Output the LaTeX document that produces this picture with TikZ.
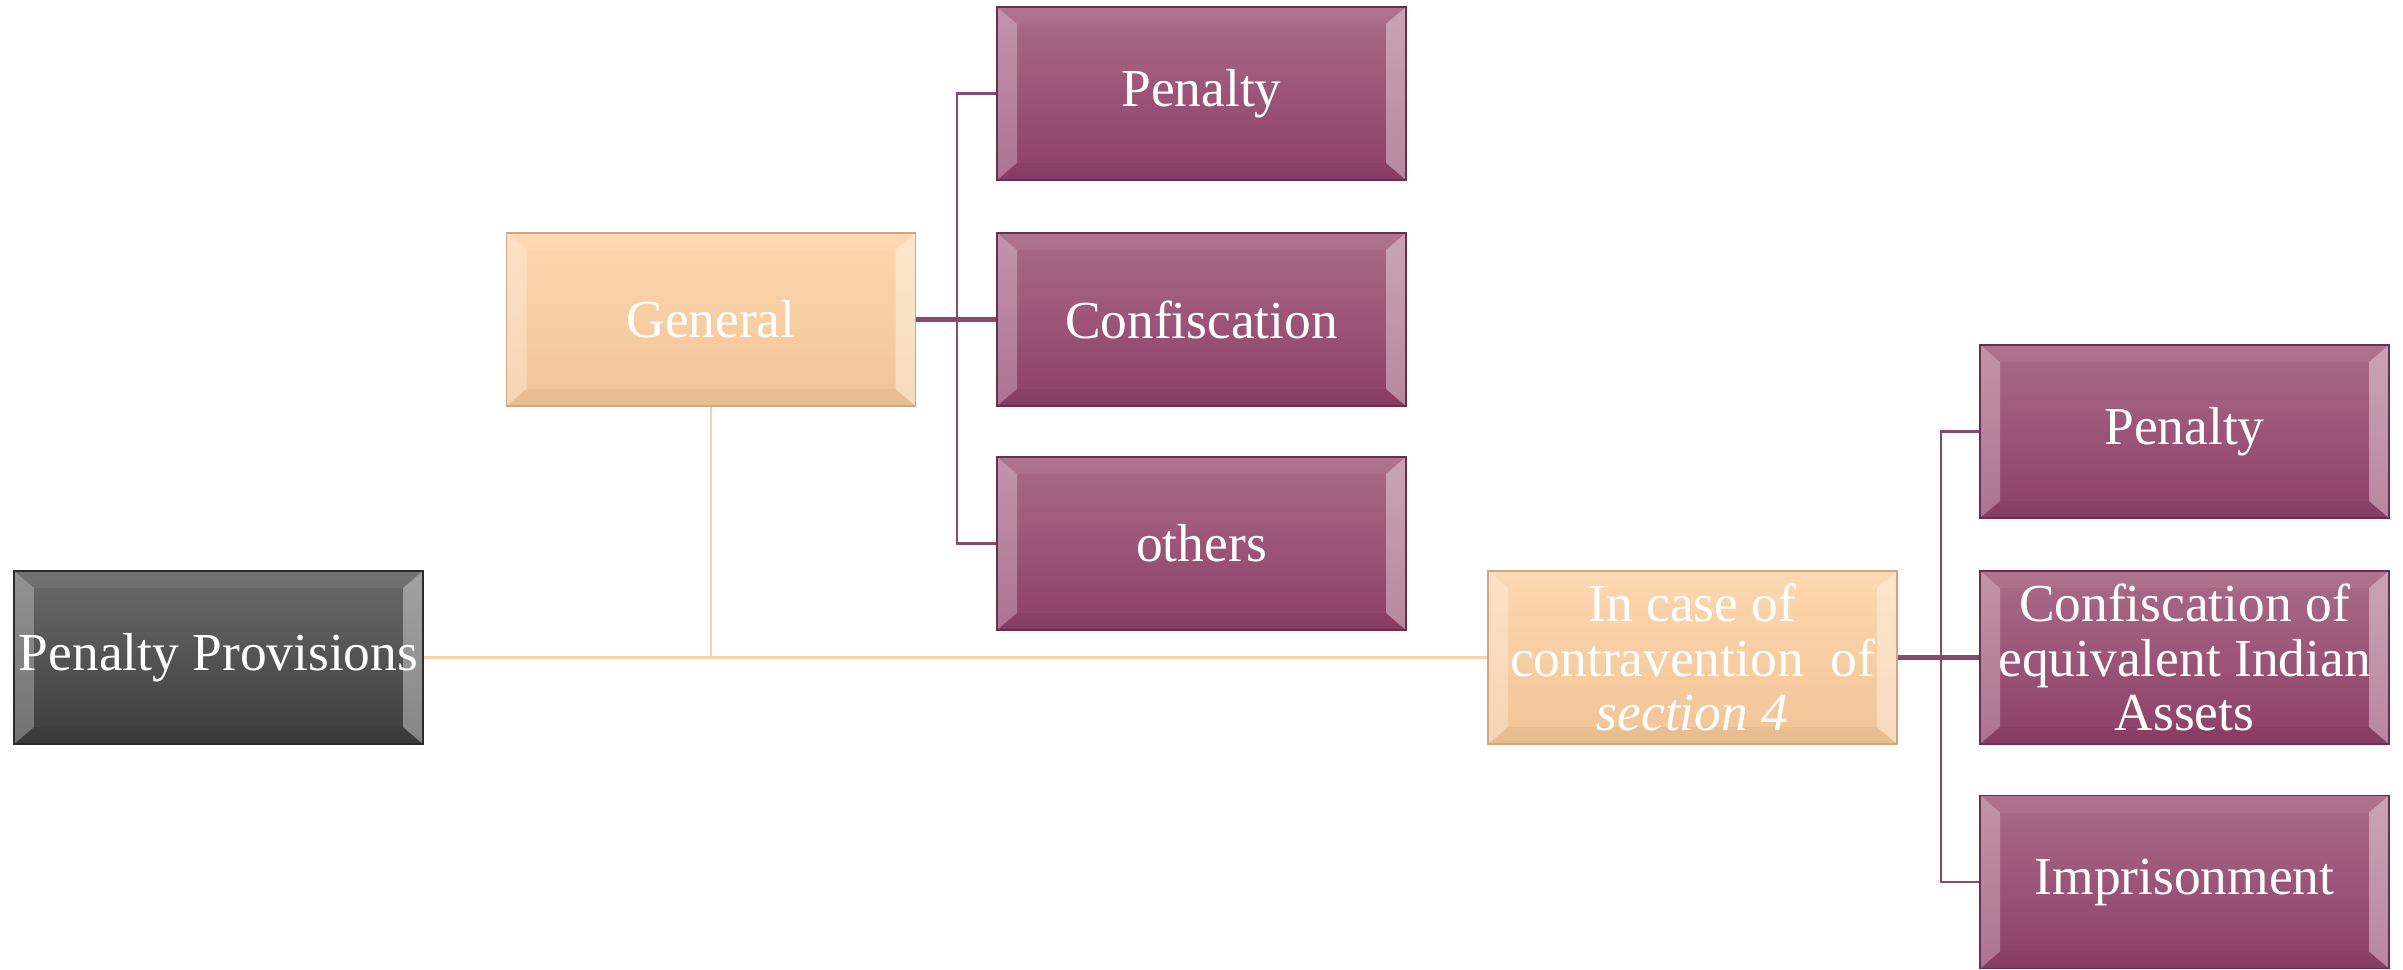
\documentclass[tikz,border=0pt]{standalone}
\usepackage{fontspec}
\setmainfont{Liberation Serif}
\usepackage{xcolor}
\usetikzlibrary{positioning}

\definecolor{provtop}{HTML}{6A6A6A}
\definecolor{provbot}{HTML}{3C3C3C}
\definecolor{peachtop}{HTML}{FDD7B0}
\definecolor{peachbot}{HTML}{F2C496}
\definecolor{plumtop}{HTML}{AA6B89}
\definecolor{plumbot}{HTML}{8D3E67}
\definecolor{plumline}{HTML}{8A4A6E}
\definecolor{peachline}{HTML}{F5D3AF}

\tikzset{
    bevel/.style={path picture={
        \coordinate (bnw) at (path picture bounding box.north west);
        \coordinate (bse) at (path picture bounding box.south east);
        \coordinate (bne) at (bse |- bnw);
        \coordinate (bsw) at (bnw |- bse);
        \fill[white, opacity=.28] (bnw) -- ([shift={(.2,-.17)}]bnw) -- ([shift={(.2,.17)}]bsw) -- (bsw) -- cycle;
        \fill[white, opacity=.38] (bne) -- ([shift={(-.2,-.17)}]bne) -- ([shift={(-.2,.17)}]bse) -- (bse) -- cycle;
        \fill[white, opacity=.06] (bnw) -- (bne) -- ([shift={(-.2,-.17)}]bne) -- ([shift={(.2,-.17)}]bnw) -- cycle;
        \fill[black, opacity=.04] (bsw) -- (bse) -- ([shift={(-.2,.17)}]bse) -- ([shift={(.2,.17)}]bsw) -- cycle;
    }},
    box/.style={rectangle, bevel, minimum width=4.09cm, minimum height=1.73cm,
        inner sep=1pt, align=center, text=white, line width=0.5pt,
        font=\fontsize{15.2}{15.6}\selectfont},
    provbox/.style={box, top color=provtop, bottom color=provbot, draw=provbot!70!black},
    peachbox/.style={box, top color=peachtop, bottom color=peachbot, draw=peachbot!85!black},
    plumbox/.style={box, top color=plumtop, bottom color=plumbot, draw=plumbot!75!black},
    peachlink/.style={draw=peachline, line width=0.6pt},
    plumlink/.style={draw=plumline, line width=0.6pt},
}

\begin{document}
\begin{tikzpicture}
        \useasboundingbox (0,0) rectangle (24.03,-9.69);

        % root and second level
        \node[provbox] (prov) at (2.185,-6.575) {Penalty Provisions};
        \node[peachbox] (gen) at (7.11,-3.195) {General};
        \node[peachbox] (case) at (16.925,-6.575) {In case of\\contravention\ \ of\\\textit{section 4}};

        % children of General
        \node[plumbox] (pen1) at (12.015,-0.935) {Penalty};
        \node[plumbox] (conf1) at (12.015,-3.195) {Confiscation};
        \node[plumbox] (oth) at (12.015,-5.435) {others};

        % children of section 4
        \node[plumbox] (pen2) at (21.845,-4.315) {Penalty};
        \node[plumbox] (conf2) at (21.845,-6.575) {Confiscation of\\equivalent Indian\\Assets};
        \node[plumbox] (impr) at (21.845,-8.82) {Imprisonment};

        \coordinate (busa) at ([xshift=0.41cm]gen.east);
        \coordinate (busb) at ([xshift=0.43cm]case.east);

        \path[peachlink] (prov.east) -- (case.west);
        \path[peachlink] (gen.south) -- (gen.south |- prov.east);

        \path[plumlink] (busa) |- (pen1.west);
        \path[plumlink] (busa) |- (oth.west);
        \path[plumlink, line width=1.4pt] (gen.east) -- (conf1.west);

        \path[plumlink] (busb) |- (pen2.west);
        \path[plumlink] (busb) |- (impr.west);
        \path[plumlink, line width=1.4pt] (case.east) -- (conf2.west);
    \end{tikzpicture}
\end{document}
